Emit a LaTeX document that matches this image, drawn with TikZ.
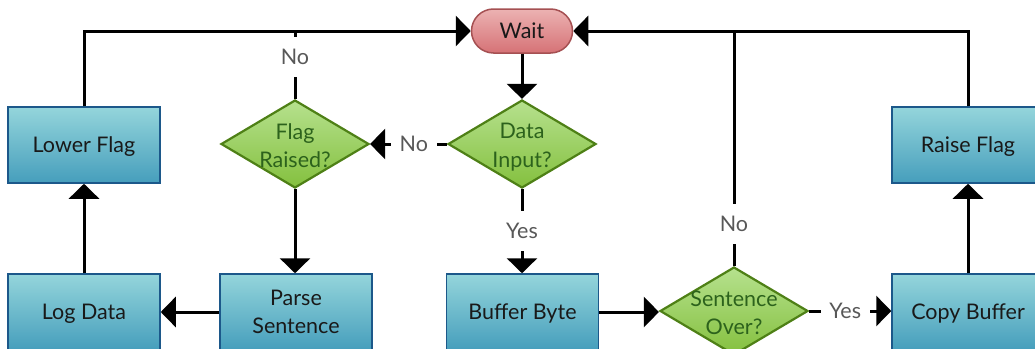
\documentclass[tikz,border=0pt]{standalone}
\usepackage{fontspec}
\setmainfont{Lato}
\usetikzlibrary{arrows.meta,shapes.geometric}

\definecolor{boxtop}{RGB}{148,213,219}
\definecolor{boxbot}{RGB}{70,158,188}
\definecolor{boxline}{RGB}{28,88,138}
\definecolor{diatop}{RGB}{182,225,142}
\definecolor{diabot}{RGB}{132,192,62}
\definecolor{dialine}{RGB}{78,128,22}
\definecolor{diatext}{RGB}{44,98,28}
\definecolor{waittop}{RGB}{236,178,178}
\definecolor{waitbot}{RGB}{214,114,118}
\definecolor{waitline}{RGB}{165,80,82}
\definecolor{lblgray}{RGB}{88,88,88}

\tikzset{
  txt/.style={font=\fontsize{21.5}{28.5}\selectfont},
  procbox/.style={txt, rectangle, draw=boxline, line width=1.5pt,
    top color=boxtop, bottom color=boxbot, text=black!90,
    minimum width=152pt, minimum height=76pt, align=center, inner sep=0pt,
    text depth=0pt},
  decision/.style={diamond, draw=dialine, line width=2.2pt,
    top color=diatop, bottom color=diabot,
    minimum width=148pt, minimum height=88pt, inner sep=0pt},
  dlabel/.style={label={[txt, text=diatext, align=center, text depth=0pt,
    yshift=-1.5pt]center:#1}},
  terminal/.style={txt, rectangle, rounded corners=22pt, draw=waitline, line width=1.5pt,
    top color=waittop, bottom color=waitbot, text=black!90,
    minimum width=101pt, minimum height=44pt, inner sep=0pt, text depth=0pt},
  link/.style={line width=3pt},
  arr/.style={link, -{Triangle[width=30pt,length=15pt]}},
  lbl/.style={txt, text=lblgray, fill=white, inner xsep=8.5pt, inner ysep=0pt,
    minimum height=40pt, text depth=0pt},
}

\begin{document}
\begin{tikzpicture}[x=1pt,y=-1pt]
\useasboundingbox (0,0) rectangle (1035,348);

% nodes
\node[terminal] (wait) at (522,31) {Wait};
\node[decision, dlabel={Data\\Input?}] (datain) at (522,144) {};
\node[decision, dlabel={Flag\\Raised?}] (flagq) at (295,144) {};
\node[decision, dlabel={Sentence\\Over?}] (sentover) at (734,311) {};
\node[procbox] (lowerflag) at (84,145) {Lower Flag};
\node[procbox] (logdata) at (84,312) {Log Data};
\node[procbox] (parse) at (296,312) {Parse\\Sentence};
\node[procbox] (buffer) at (522.5,312) {Buffer Byte};
\node[procbox] (copybuf) at (968,312) {Copy Buffer};
\node[procbox] (raiseflag) at (968,145) {Raise Flag};

% connectors
\draw[arr] (wait.south) -- (datain.north);
\draw[arr] (datain.west) -- node[lbl, pos=0.43] {No} (flagq.east);
\draw[arr] (datain.south) -- node[lbl, pos=0.5] {Yes} (datain.south |- buffer.north);
\draw[arr] (flagq.south) -- (flagq.south |- parse.north);
\draw[arr] (parse.west) -- (logdata.east);
\draw[arr] (logdata.north) -- (lowerflag.south);
\draw[arr] (lowerflag.north) |- (wait.west);
\draw[link] (flagq.north) -- node[lbl, pos=0.62] {No} (flagq.north |- wait.west);
\draw[arr] (buffer.east) -- (buffer.east -| sentover.west);
\draw[arr] (sentover.east) -- node[lbl, pos=0.44] {Yes} (sentover.east -| copybuf.west);
\draw[arr] (copybuf.north) -- (raiseflag.south);
\draw[arr] (raiseflag.north) |- (wait.east);
\draw[link] (sentover.north) -- node[lbl, pos=0.18] {No} (sentover.north |- wait.east);
\end{tikzpicture}
\end{document}
